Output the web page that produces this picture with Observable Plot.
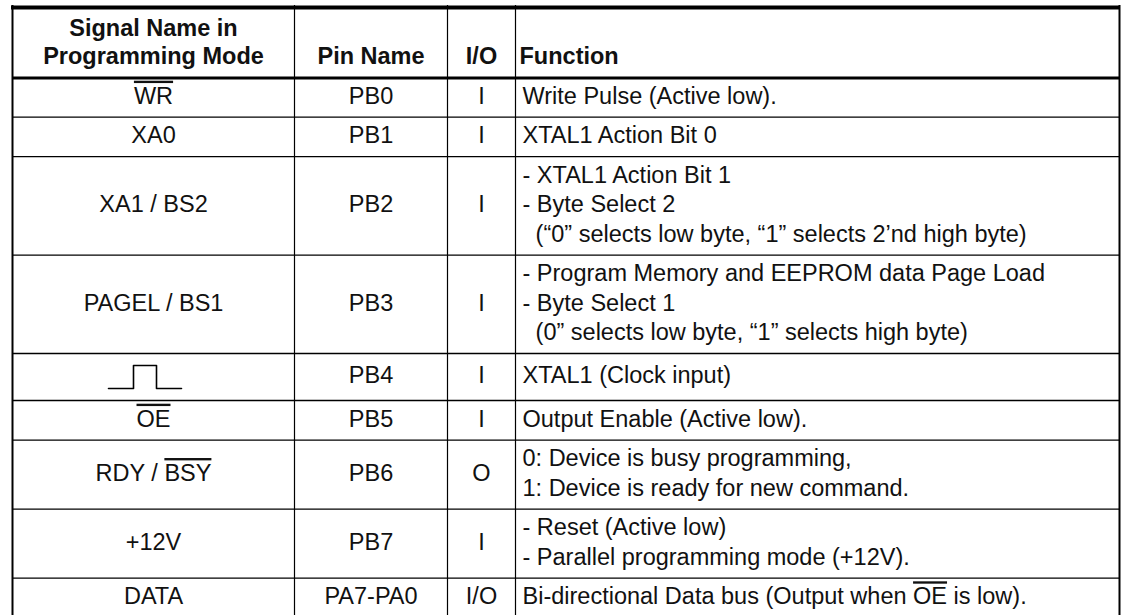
<!DOCTYPE html>
<html><head><meta charset="utf-8">
<script src="https://cdn.jsdelivr.net/npm/d3@7"></script>
<script src="https://cdn.jsdelivr.net/npm/@observablehq/plot@0.6"></script>
<style>
html,body{margin:0;padding:0;background:#fff;}
#chart svg{display:block;}
.ovl{text-decoration:overline;}
</style>
</head><body><div id="chart"></div>
<script>
// ---- data (text content of the table) ----
const headers = ["Signal Name in\nProgramming Mode", "Pin Name", "I/O", "Function"];
const signals = ["{WR}", "XA0", "XA1 / BS2", "PAGEL / BS1", "", "{OE}", "RDY / {BSY}", "+12V", "DATA"];
const signalGlyphs = ["", "", "", "", "pulse", "", "", "", ""];
const pins = ["PB0", "PB1", "PB2", "PB3", "PB4", "PB5", "PB6", "PB7", "PA7-PA0"];
const ios = ["I", "I", "I", "I", "I", "I", "O", "I", "I/O"];
const functions = [
  ["Write Pulse (Active low)."],
  ["XTAL1 Action Bit 0"],
  ["- XTAL1 Action Bit 1", "- Byte Select 2", "\u00a0\u00a0(\u201c0\u201d selects low byte, \u201c1\u201d selects 2\u2019nd high byte)"],
  ["- Program Memory and EEPROM data Page Load", "- Byte Select 1", "\u00a0\u00a0(0\u201d selects low byte, \u201c1\u201d selects high byte)"],
  ["XTAL1 (Clock input)"],
  ["Output Enable (Active low)."],
  ["0: Device is busy programming,", "1: Device is ready for new command."],
  ["- Reset (Active low)", "- Parallel programming mode (+12V)."],
  ["Bi-directional Data bus (Output when {OE} is low)."]
];

// ---- layout ----
const W = 1124, H = 615;
const FONT = "'Liberation Sans', Arial, Helvetica, sans-serif";
const FS = 23.5;
const colEdges = [12, 294, 447, 515, 1119];
const topY = 7, headY = 77.5, headBase = 63;
const rowBase = 39.6, rowGap = 29.4, glyphRowH = 47;
const nLines = functions.map(f => f.length);
const rowH = nLines.map((n, i) => {
  const h = rowBase + (n - 1) * rowGap;
  return signalGlyphs[i] ? Math.max(glyphRowH, h) : h;
});
const rowTop = [];
let acc = 77;
rowH.forEach(h => { rowTop.push(acc); acc += h; });
const tableBottom = acc;
const rowMid = rowTop.map((t, i) => t + rowH[i] / 2);
const colMid = i => (colEdges[i] + colEdges[i + 1]) / 2;

const rows = signals.map((s, i) => ({
  i, signal: s, pin: pins[i], io: ios[i], fn: functions[i].join("\n"), y: rowMid[i]
}));
const headerCentered = headers.slice(0, 3).map((h, i) => ({text: h, x: colMid(i)}));
const headerLeft = [{text: headers[3], x: colEdges[3] + 4}];

const hLines = rowTop.slice(1).concat([tableBottom]).map(y => ({y, x1: colEdges[0], x2: colEdges[4]}));
const vLines = colEdges.map((x, i) => ({x, w: (i === 0 || i === colEdges.length - 1) ? 2 : 1.2}));

// pulse glyph (clock symbol) centered in its cell
const pulsePts = [];
signalGlyphs.forEach((g, i) => {
  if (g !== "pulse") return;
  const cx = colMid(0) - 8.5, cy = rowMid[i];
  [[-36.5, 11.5], [-11.5, 11.5], [-11.5, -11.5], [11.5, -11.5], [11.5, 11.5], [36.5, 11.5]]
    .forEach(([dx, dy]) => pulsePts.push({x: cx + dx, y: cy + dy}));
});

const textCommon = {fontFamily: FONT, fontSize: FS, fill: "#111", lineAnchor: "middle", lineHeight: rowGap / FS, dy: -3};
const headCommon = {y: () => headBase, text: "text", fontFamily: FONT, fontSize: FS, fontWeight: "bold",
  fill: "#111", lineAnchor: "bottom", lineHeight: 28 / FS};

const svg = Plot.plot({
  width: W, height: H,
  margin: 0,
  x: {type: "identity", axis: null},
  y: {type: "identity", axis: null},
  style: {background: "#fff"},
  marks: [
    Plot.ruleY(hLines, {y: "y", x1: "x1", x2: "x2", stroke: "#000", strokeWidth: 1.3}),
    Plot.ruleX(vLines, {x: "x", y1: topY - 2, y2: H, stroke: "#000", strokeWidth: "w"}),
    Plot.ruleY([topY], {x1: colEdges[0] - 1, x2: colEdges[4] + 1, stroke: "#000", strokeWidth: 4}),
    Plot.ruleY([headY], {x1: colEdges[0], x2: colEdges[4], stroke: "#000", strokeWidth: 3}),
    // header
    Plot.text(headerCentered, {...headCommon, x: "x", textAnchor: "middle"}),
    Plot.text(headerLeft, {...headCommon, x: "x", textAnchor: "start"}),
    // body
    Plot.text(rows, {...textCommon, x: () => colMid(0), y: "y", text: "signal", textAnchor: "middle"}),
    Plot.text(rows, {...textCommon, x: () => colMid(1), y: "y", text: "pin", textAnchor: "middle"}),
    Plot.text(rows, {...textCommon, x: () => colMid(2), y: "y", text: "io", textAnchor: "middle"}),
    Plot.text(rows, {...textCommon, x: () => colEdges[3] + 7, y: "y", text: "fn", textAnchor: "start"}),
    Plot.line(pulsePts, {x: "x", y: "y", stroke: "#000", strokeWidth: 1.6})
  ]
});

// overline markup {ABC} -> tspan with text-decoration: overline
svg.querySelectorAll("text, tspan").forEach(el => {
  if (el.children.length) return;
  const s = el.textContent;
  if (!s.includes("{")) return;
  el.textContent = "";
  s.split(/(\{[^}]*\})/).forEach(part => {
    if (!part) return;
    if (part.startsWith("{")) {
      const t = document.createElementNS("http://www.w3.org/2000/svg", "tspan");
      t.setAttribute("class", "ovl");
      t.setAttribute("style", "text-decoration:overline");
      t.textContent = part.slice(1, -1);
      el.appendChild(t);
    } else {
      el.appendChild(document.createTextNode(part));
    }
  });
});

document.getElementById("chart").appendChild(svg);
</script>
</body></html>
